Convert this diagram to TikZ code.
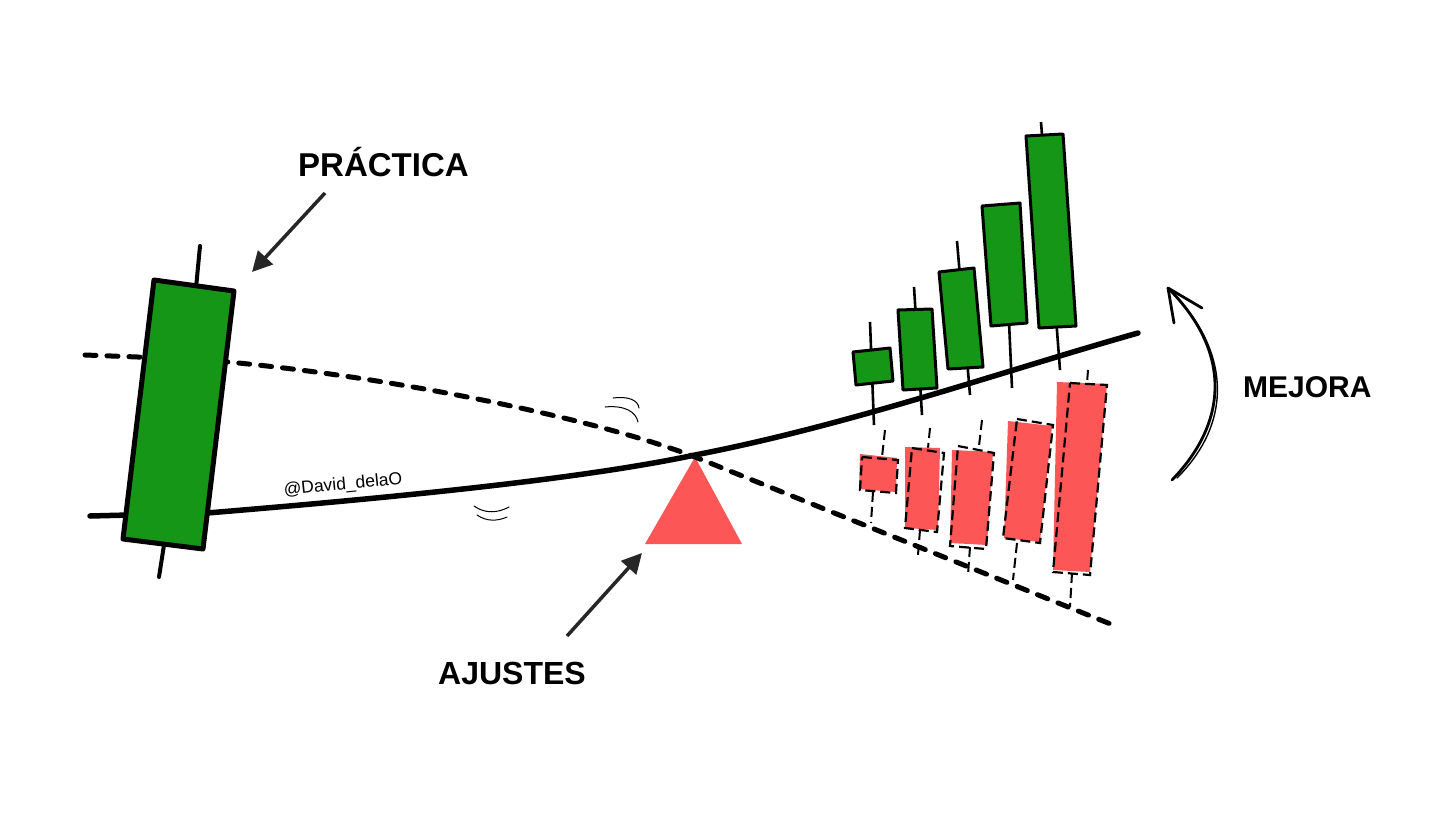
\documentclass[tikz,border=0pt]{standalone}
\usepackage{fontspec}
\setmainfont{Liberation Sans}
\usetikzlibrary{arrows.meta}
\definecolor{cgreen}{RGB}{22,150,22}
\definecolor{cred}{RGB}{252,86,86}
\definecolor{agray}{RGB}{38,38,38}
\begin{document}
\begin{tikzpicture}[x=1pt,y=-1pt,
  thickdash/.style={line width=5pt, dash pattern=on 11pt off 11pt, line cap=round},
  trend/.style={line width=5.5pt, line cap=round},
  bigbody/.style={fill=cgreen, draw=black, line width=5pt, line join=round},
  bigwick/.style={line width=4pt, line cap=round},
  gbody/.style={fill=cgreen, draw=black, line width=3pt, line join=round},
  gwick/.style={line width=2.6pt},
  rbody/.style={fill=cred},
  rline/.style={draw=black, line width=2.2pt, dash pattern=on 10pt off 5pt},
  rwick/.style={line width=2pt, dash pattern=on 10pt off 5pt},
  pointer/.style={draw=agray, line width=3.5pt, -{Triangle[length=20pt,width=20pt]}},
  label/.style={font=\bfseries, text=black, inner sep=0pt, anchor=base west},
  swoosh/.style={line width=1pt, line cap=round},
]
\useasboundingbox (0,0) rectangle (1456,819);
\fill[white] (0,0) rectangle (1456,819);

% support triangle
\fill[cred] (695,457) -- (742,544) -- (645,544) -- cycle;

% dashed worsening line
\draw[thickdash] (85,355) -- (190,359) -- (228,362) .. controls (400,378) and (600,420) .. (695,457) -- (1113,625);
% solid improving line
\draw[trend] (90,516) -- (207,513) .. controls (450,493) and (600,475) .. (695,455) .. controls (850,425) and (1000,372) .. (1138,333);

% big left candle
\draw[bigwick] (200,246) -- (196,288);
\draw[bigwick] (159,577) -- (164,545);
\draw[bigbody] (154,280) -- (234,291) -- (203,549) -- (123,539) -- cycle;

% green candles (wicks first)
\draw[gwick] (870,322) -- (874,425);
\draw[gwick] (914,287) -- (922,415);
\draw[gwick] (957,241) -- (970,395);
\draw[gwick] (1008,300) -- (1012,388);
\draw[gwick] (1041,122) -- (1060,370);
\draw[gbody] (853,352) -- (890,348) -- (893,381) -- (856,385) -- cycle;
\draw[gbody] (898,310) -- (932,309) -- (937,388) -- (903,390) -- cycle;
\draw[gbody] (939,272) -- (974,268) -- (983,367) -- (948,369) -- cycle;
\draw[gbody] (982,206) -- (1020,203) -- (1027,323) -- (991,326) -- cycle;
\draw[gbody] (1026,136) -- (1063,134) -- (1076,326) -- (1039,328) -- cycle;

% red candles
\draw[rwick] (885,430) -- (882,457);
\draw[rwick] (873,492) -- (871,523);
\fill[rbody] (860,454) -- (897,458) -- (896,492) -- (859,489) -- cycle;
\draw[rline] (862,457) -- (898,460) -- (896,493) -- (860,490) -- cycle;

\draw[rwick] (930,428) -- (928,448);
\draw[rwick] (920,530) -- (918,555);
\fill[rbody] (905,447) -- (940,448) -- (938,530) -- (905,528) -- cycle;
\draw[rline] (912,448) -- (944,453) -- (937,532) -- (905,528) -- cycle;

\draw[rwick] (982,420) -- (979,446);
\draw[rwick] (970,547) -- (968,575);
\fill[rbody] (952,450) -- (993,452) -- (987,545) -- (950,543) -- cycle;
\draw[rline] (958,446) -- (994,453) -- (986,549) -- (950,546) -- cycle;

\draw[rwick] (1017,543) -- (1013,580);
\fill[rbody] (1008,421) -- (1052,426) -- (1040,542) -- (1004,538) -- cycle;
\draw[rline] (1017,419) -- (1053,425) -- (1040,543) -- (1003,538) -- cycle;

\draw[rwick] (1088,370) -- (1087,383);
\draw[rwick] (1072,573) -- (1070,607);
\fill[rbody] (1057,382) -- (1107,384) -- (1090,572) -- (1053,570) -- cycle;
\draw[rline] (1070,383) -- (1107,385) -- (1090,575) -- (1053,572) -- cycle;

% motion marks
\draw[swoosh] (605,407) .. controls (625,405) and (636,412) .. (638,422);
\draw[swoosh] (613,398) .. controls (628,396) and (638,400) .. (639,408);
\draw[swoosh] (474,506) .. controls (485,514) and (498,513) .. (509,507);
\draw[swoosh] (477,515) .. controls (487,522) and (498,521) .. (507,517);

% labels
\node[label, font=\bfseries\fontsize{33}{33}\selectfont] (practica) at (298,176) {PRÁCTICA};
\node[label, font=\bfseries\fontsize{32}{32}\selectfont] (ajustes) at (438,684) {AJUSTES};
\node[label, font=\bfseries\fontsize{30}{30}\selectfont] (mejora) at (1243,397) {MEJORA};
\node[inner sep=0pt, rotate=5.7, font=\fontsize{17.5}{17.5}\selectfont] (firma) at (343,485) {@David\_delaO};

% pointer arrows
\coordinate (pstart) at (325,193);
\coordinate (pend) at (252,272);
\draw[pointer] (pstart) -- (pend);
\coordinate (astart) at (567,636);
\coordinate (aend) at (642,553);
\draw[pointer] (astart) -- (aend);

% mejora arrow
\coordinate (mtail) at (1172,480);
\coordinate (mtip) at (1168,288);
\draw[line width=2.8pt, line cap=round] (mtail) .. controls (1230,420) and (1230,350) .. (mtip);
\draw[line width=1.4pt, line cap=round] (1177,478) .. controls (1237,418) and (1227,345) .. (mtip);
\draw[line width=2.8pt, line cap=round, line join=round] (1174,323) -- (mtip) -- (1202,308);
\end{tikzpicture}
\end{document}
